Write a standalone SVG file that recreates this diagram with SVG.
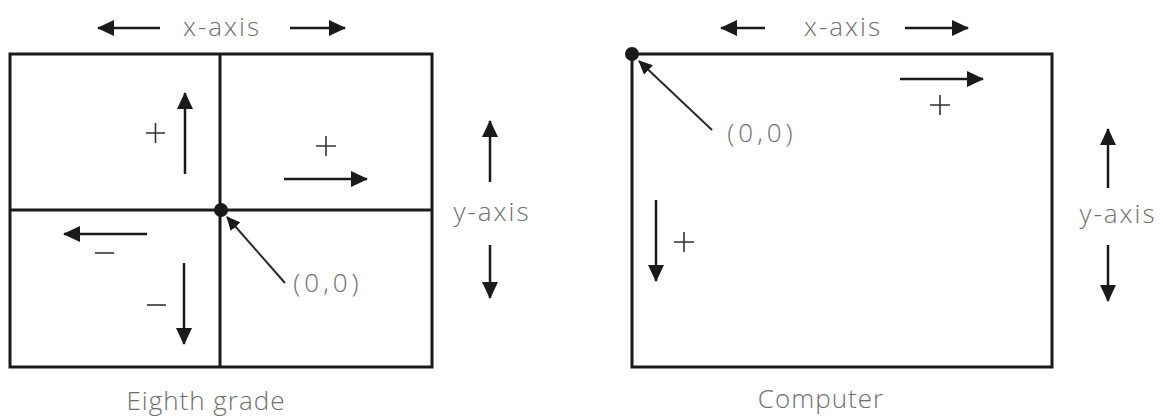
<svg xmlns="http://www.w3.org/2000/svg" width="1163" height="419" viewBox="0 0 1163 419">
<style>
.frame{fill:none;stroke:#1a1a1a;stroke-width:3}
.ax{stroke:#1a1a1a;stroke-width:2.5;fill:none}
.ptr{stroke:#2a2a2a;stroke-width:2;fill:none}
.lbl{font-family:"Open Sans","Liberation Sans",sans-serif;font-weight:300;fill:#6f6f6f;font-size:26px;text-anchor:middle}
.sign{stroke:#333;stroke-width:1.6;fill:none}
</style>
<defs>
<marker id="ah" viewBox="0 0 17 16" refX="16" refY="8" markerWidth="17" markerHeight="16" markerUnits="userSpaceOnUse" orient="auto">
<path d="M0,0 L17,8 L0,16 z" fill="#1a1a1a"/>
</marker>
<marker id="ahs" viewBox="0 0 14 13" refX="13" refY="6.5" markerWidth="14" markerHeight="13" markerUnits="userSpaceOnUse" orient="auto">
<path d="M0,0 L14,6.5 L0,13 z" fill="#1a1a1a"/>
</marker>
</defs>
<rect width="1163" height="419" fill="#fff"/>

<g id="eighth-grade">
<rect class="frame" x="10" y="54" width="422" height="313"/>
<line class="frame" x1="220" y1="54" x2="220" y2="367"/>
<line class="frame" x1="10" y1="210" x2="432" y2="210"/>
<circle cx="221" cy="210" r="7" fill="#1a1a1a"/>
<text class="lbl" x="222" y="36" letter-spacing="2">x-axis</text>
<text class="lbl" x="492" y="221" letter-spacing="2">y-axis</text>
<text class="lbl" x="328" y="292" letter-spacing="4">(0,0)</text>
<text class="lbl" x="206" y="410" letter-spacing="1">Eighth grade</text>
<path class="sign" d="M146,133 H165 M155.5,123 V143"/>
<path class="sign" d="M316,146 H336 M326,136 V156"/>
<path class="sign" d="M95,253 H114"/>
<path class="sign" d="M147,305 H166"/>
</g>

<g id="computer">
<rect class="frame" x="632" y="54" width="420" height="313"/>
<circle cx="632" cy="54" r="7" fill="#1a1a1a"/>
<text class="lbl" x="843" y="36" letter-spacing="2">x-axis</text>
<text class="lbl" x="1118" y="223" letter-spacing="2">y-axis</text>
<text class="lbl" x="762" y="142" letter-spacing="4">(0,0)</text>
<text class="lbl" x="821" y="408" letter-spacing="1">Computer</text>
<path class="sign" d="M930,105 H950 M940,95 V115"/>
<path class="sign" d="M674,242 H694 M684,232 V252"/>
</g>

<g id="connectors">
<line class="ax" x1="160" y1="28" x2="98" y2="28" marker-end="url(#ah)"/>
<line class="ax" x1="290" y1="28" x2="345" y2="28" marker-end="url(#ah)"/>
<line class="ax" x1="185" y1="174" x2="185" y2="93" marker-end="url(#ah)"/>
<line class="ax" x1="284" y1="179" x2="367" y2="179" marker-end="url(#ah)"/>
<line class="ax" x1="147" y1="234" x2="64" y2="234" marker-end="url(#ah)"/>
<line class="ax" x1="184" y1="263" x2="184" y2="344" marker-end="url(#ah)"/>
<line class="ax" x1="490" y1="182" x2="490" y2="121" marker-end="url(#ah)"/>
<line class="ax" x1="490" y1="245" x2="490" y2="298" marker-end="url(#ah)"/>
<line class="ptr" x1="285" y1="283" x2="227" y2="217" marker-end="url(#ahs)"/>

<line class="ax" x1="765" y1="28" x2="721" y2="28" marker-end="url(#ah)"/>
<line class="ax" x1="905" y1="28" x2="968" y2="28" marker-end="url(#ah)"/>
<line class="ax" x1="900" y1="79" x2="983" y2="79" marker-end="url(#ah)"/>
<line class="ax" x1="656" y1="200" x2="656" y2="281" marker-end="url(#ah)"/>
<line class="ax" x1="1108" y1="188" x2="1108" y2="129" marker-end="url(#ah)"/>
<line class="ax" x1="1108" y1="245" x2="1108" y2="301" marker-end="url(#ah)"/>
<line class="ptr" x1="712" y1="130" x2="639" y2="61" marker-end="url(#ahs)"/>
</g>
</svg>
